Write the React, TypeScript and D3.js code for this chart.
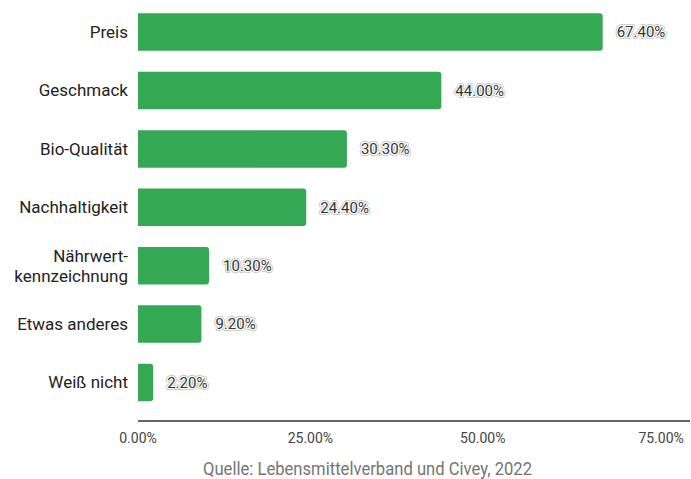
import React from "react";
import * as d3 from "d3";

const categories: string[][] = [
  ["Preis"],
  ["Geschmack"],
  ["Bio-Qualität"],
  ["Nachhaltigkeit"],
  ["Nährwert-", "kennzeichnung"],
  ["Etwas anderes"],
  ["Weiß nicht"],
];
const values: number[] = [67.4, 44.0, 30.3, 24.4, 10.3, 9.2, 2.2];
const tickValues: number[] = [0, 25, 50, 75];
const sourceText = "Quelle: Lebensmittelverband und Civey, 2022";

const W = 691;
const H = 479;
const FONT = "Roboto, 'Noto Sans', sans-serif";
const GREEN = "#34a853";

function barPath(x0: number, x1: number, y: number, h: number, r: number) {
  const w = x1 - x0;
  const rr = Math.min(r, w / 2, h / 2);
  return `M${x0},${y}H${x1 - rr}Q${x1},${y} ${x1},${y + rr}V${y + h - rr}Q${x1},${y + h} ${x1 - rr},${y + h}H${x0}Z`;
}

export default function App() {
  const x = d3.scaleLinear().domain([0, 67.4]).range([138, 602.7]);
  const keys = categories.map((c) => c.join(" "));
  const y = d3
    .scaleBand<string>()
    .domain(keys)
    .range([2.8, 411.8])
    .paddingInner(0.358)
    .paddingOuter(0.18);
  const axisY = 421;
  const fmt = (v: number) => v.toFixed(2) + "%";
  const catSize = 17;

  return (
    <svg
      width={W}
      height={H}
      style={{ position: "absolute", left: 0, top: 0, display: "block", background: "#fff" }}
    >
      <rect x={0} y={0} width={W} height={H} fill="#fff" />
      {categories.map((lines, i) => {
        const key = keys[i];
        const by = y(key)!;
        const bh = y.bandwidth();
        const cy = by + bh / 2;
        const xe = x(values[i]);
        const lab = fmt(values[i]);
        return (
          <g key={key}>
            <path d={barPath(x(0), xe, by, bh, 3)} fill={GREEN} />
            <text
              x={128}
              y={cy}
              textAnchor="end"
              fontFamily={FONT}
              fontSize={catSize}
              fill="#222"
            >
              {lines.map((l, j) => (
                <tspan
                  key={j}
                  x={128}
                  dy={j === 0 ? (lines.length === 1 ? "0.35em" : `${0.35 * catSize - ((lines.length - 1) * 20) / 2}px`) : "20px"}
                >
                  {l}
                </tspan>
              ))}
            </text>
            <text
              x={xe + 14}
              y={cy}
              dy="0.35em"
              fontFamily={FONT}
              fontSize={15}
              fill="none"
              stroke="#bbb"
              strokeWidth={4}
              strokeLinejoin="round"
            >
              {lab}
            </text>
            <text
              x={xe + 14}
              y={cy}
              dy="0.35em"
              fontFamily={FONT}
              fontSize={15}
              fill="#333"
              stroke="#fff"
              strokeWidth={2.5}
              strokeLinejoin="round"
              style={{ paintOrder: "stroke" }}
            >
              {lab}
            </text>
          </g>
        );
      })}
      <line x1={x(0)} x2={690} y1={axisY} y2={axisY} stroke="#333" strokeWidth={1.5} />
      {tickValues.map((t, i) => (
        <text
          key={t}
          x={x(t)}
          dx={i === tickValues.length - 1 ? 6 : 0}
          y={443}
          textAnchor="middle"
          fontFamily={FONT}
          fontSize={14}
          fill="#444"
        >
          {fmt(t)}
        </text>
      ))}
      <text
        x={203}
        y={475}
        fontFamily={FONT}
        fontSize={18}
        fill="#757575"
        textLength={329}
        lengthAdjust="spacingAndGlyphs"
      >
        {sourceText}
      </text>
    </svg>
  );
}
